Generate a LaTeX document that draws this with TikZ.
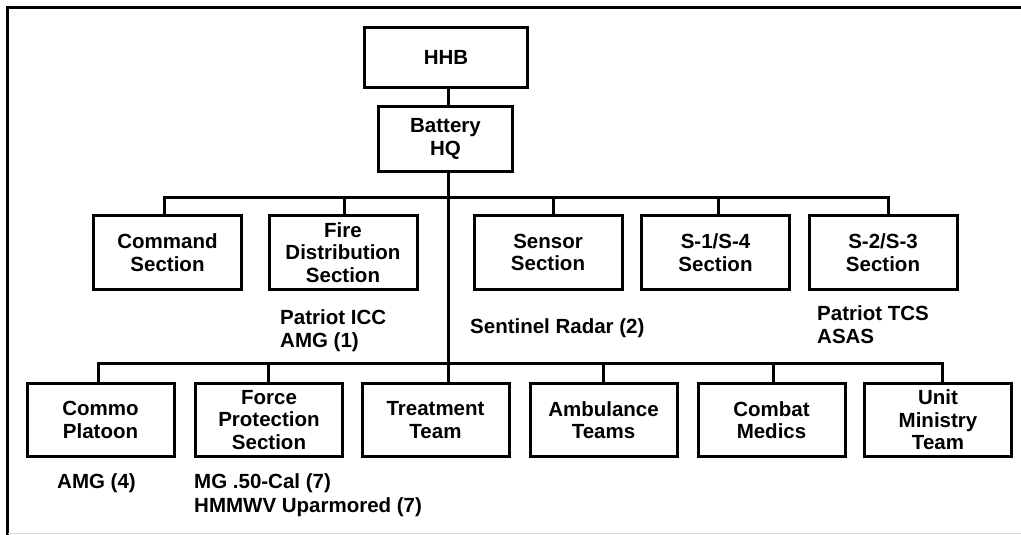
\documentclass[tikz,border=0pt]{standalone}
\usepackage{fontspec}
\setmainfont{Liberation Sans}
\begin{document}
\begin{tikzpicture}[x=1pt,y=-1pt,
  box/.style={draw=black, line width=3pt, inner sep=0pt, align=center,
    font=\bfseries\fontsize{20.5}{22.5}\selectfont},
  lvl/.style={box, minimum width=148pt, minimum height=74pt},
  lvlb/.style={box, minimum width=147pt, minimum height=73pt},
  wire/.style={line width=3pt},
  lbl/.style={inner sep=0pt, align=left, anchor=base west,
    font=\bfseries\fontsize{20.5}{22.5}\selectfont}]
\useasboundingbox (0,0) rectangle (1021,535);
\fill[white] (0,0) rectangle (1021,535);
% outer frame
\draw[line width=3pt] (7.5,535) -- (7.5,7.5) -- (1021,7.5);
\draw[line width=0.8pt, black!15] (7.5,533.5) -- (1021,533.5);
% top
\node[box, minimum width=163pt, minimum height=60pt] (hhb) at (446,57.5) {HHB};
\node[box, minimum width=134pt, minimum height=65pt] (bhq) at (445.5,139) {Battery\\HQ};
% level 1
\node[lvl] (cmd) at (167.5,252.5) {Command\\Section};
\node[lvl] (fire) at (343,252.5) {Fire\\Distribution\\Section};
\node[lvl] (sens) at (548,252.5) {Sensor\\Section};
\node[lvl] (s14) at (715.5,252.5) {S-1/S-4\\Section};
\node[lvl] (s23) at (883,252.5) {S-2/S-3\\Section};
% level 2
\node[lvlb] (commo) at (100.5,420) {Commo\\Platoon};
\node[lvlb] (force) at (269,420) {Force\\Protection\\Section};
\node[lvlb] (treat) at (435.5,420) {Treatment\\Team};
\node[lvlb] (amb) at (603.5,420) {Ambulance\\Teams};
\node[lvlb] (medic) at (771.5,420) {Combat\\Medics};
\node[lvlb] (unit) at (938,420) {Unit\\Ministry\\Team};
% bus coordinates
\coordinate (t0) at (448,139);
\coordinate (b1) at (448,197);
\coordinate (b2) at (448,363);
\coordinate (u1) at (164,197);
\coordinate (u2) at (344,197);
\coordinate (u3) at (553,197);
\coordinate (u4) at (718,197);
\coordinate (u5) at (888,197);
\coordinate (l1) at (98,363);
\coordinate (l2) at (268,363);
\coordinate (l4) at (603,363);
\coordinate (l5) at (773,363);
\coordinate (l6) at (942,363);
% connectors
\draw[wire] (t0 |- hhb.south) -- (t0 |- bhq.north);
\draw[wire] (t0 |- bhq.south) -- (b2);
\draw[wire] (u1 |- cmd.north) -- (u1) -- (u5) -- (u5 |- s23.north);
\draw[wire] (u2) -- (u2 |- fire.north);
\draw[wire] (u3) -- (u3 |- sens.north);
\draw[wire] (u4) -- (u4 |- s14.north);
\draw[wire] (l1 |- commo.north) -- (l1) -- (l6) -- (l6 |- unit.north);
\draw[wire] (l2) -- (l2 |- force.north);
\draw[wire] (b2) -- (b2 |- treat.north);
\draw[wire] (l4) -- (l4 |- amb.north);
\draw[wire] (l5) -- (l5 |- medic.north);
% labels (base = baseline of last line)
\node[lbl] (eqfire) at (280,347) {Patriot ICC\\AMG (1)};
\node[lbl] (eqsens) at (470,333) {Sentinel Radar (2)};
\node[lbl] (eqs23) at (817,343) {Patriot TCS\\ASAS};
\node[lbl] (eqcommo) at (57,488) {AMG (4)};
\node[lbl, font=\bfseries\fontsize{20.5}{24}\selectfont] (eqforce) at (194,512) {MG .50-Cal (7)\\HMMWV Uparmored (7)};
\end{tikzpicture}
\end{document}
